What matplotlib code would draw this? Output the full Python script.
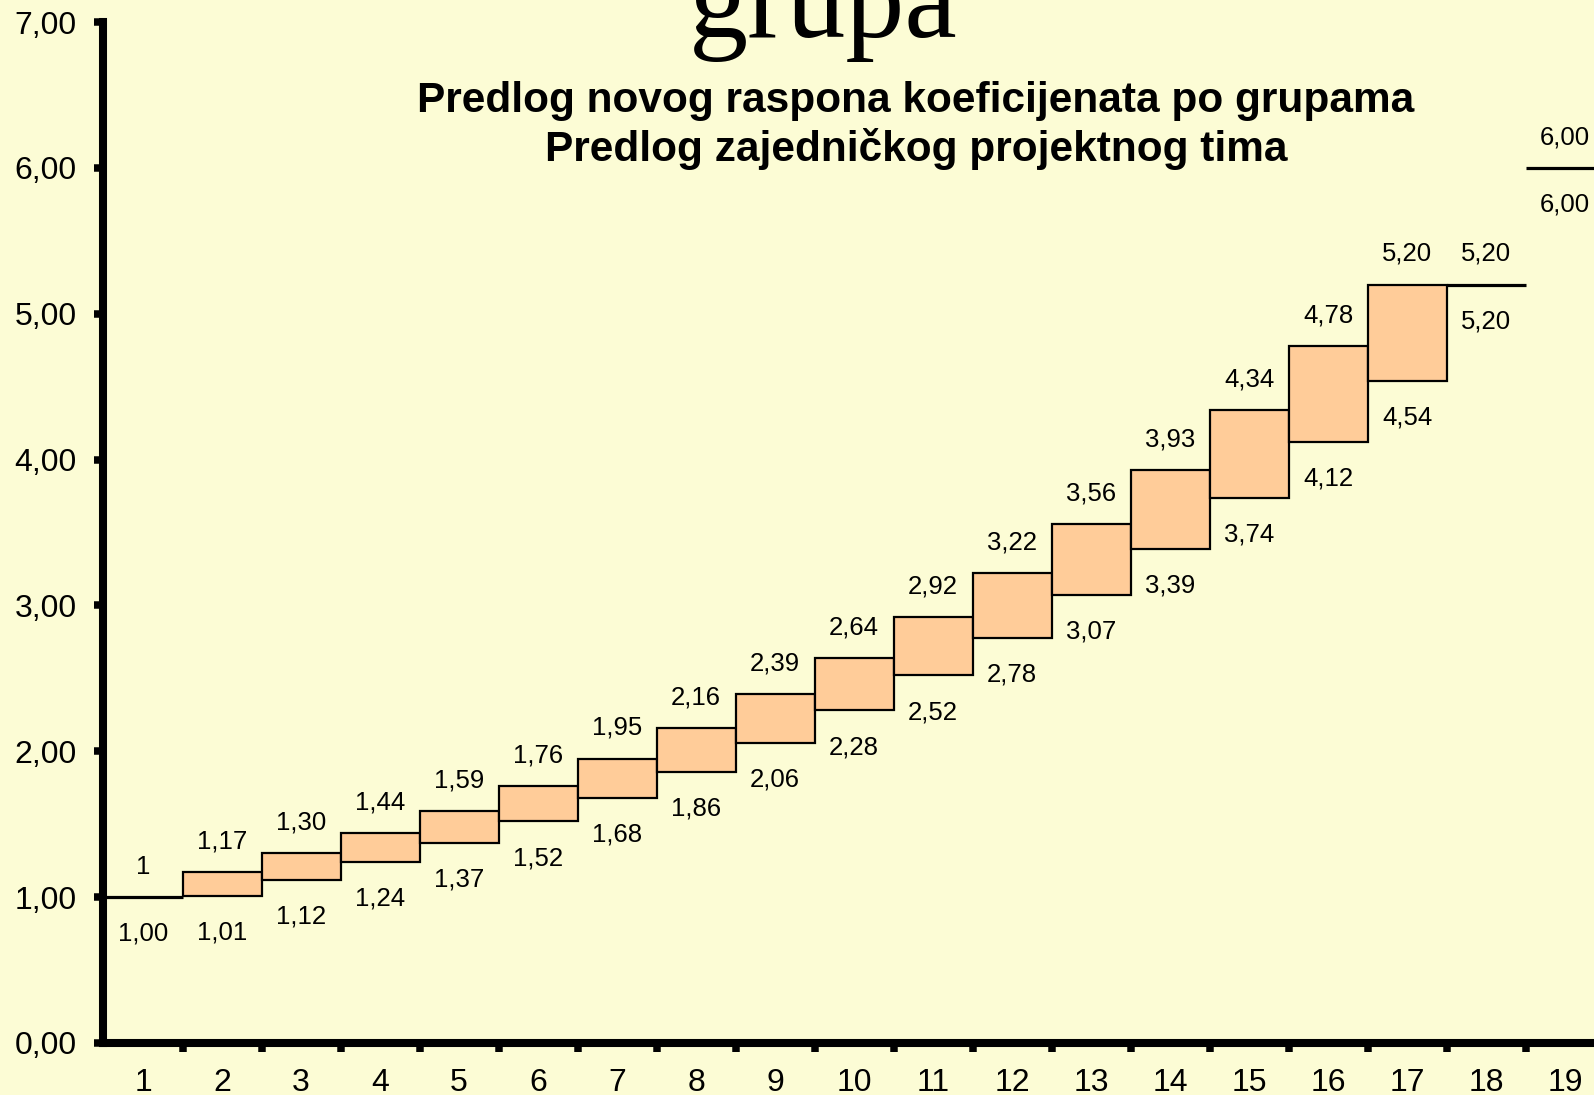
import numpy as np
import matplotlib.pyplot as plt
from matplotlib.patches import Rectangle

# groups and coefficient ranges (low / high)
groups = list(range(1, 20))
low = [1.00, 1.01, 1.12, 1.24, 1.37, 1.52, 1.68, 1.86, 2.06, 2.28,
       2.52, 2.78, 3.07, 3.39, 3.74, 4.12, 4.54, 5.20, 6.00]
high = [1.00, 1.17, 1.30, 1.44, 1.59, 1.76, 1.95, 2.16, 2.39, 2.64,
        2.92, 3.22, 3.56, 3.93, 4.34, 4.78, 5.20, 5.20, 6.00]
# label shown above each group (first one is written as plain "1")
top_labels = ['1'] + [f'{v:.2f}'.replace('.', ',') for v in high[1:]]
bottom_labels = [f'{v:.2f}'.replace('.', ',') for v in low]
yticks = [0, 1, 2, 3, 4, 5, 6, 7]

bg = '#FCFCD5'
plt.rcParams['font.family'] = ['Liberation Sans', 'DejaVu Sans']

fig = plt.figure(figsize=(15.94, 10.95), dpi=100, facecolor=bg)
ax = fig.add_axes([0.06493, 0.04749, 0.9417, 0.9324])
ax.set_facecolor(bg)

for g, lo, hi in zip(groups, low, high):
    if hi > lo:
        ax.add_patch(Rectangle((g - 0.5, lo), 1, hi - lo, facecolor='#FFCC99',
                               edgecolor='black', linewidth=1.6, zorder=2))
    else:
        ax.plot([g - 0.5, g + 0.5], [lo, hi], color='black', linewidth=2.3,
                solid_capstyle='butt', zorder=2)

for g, lo, hi, tl, bl in zip(groups, low, high, top_labels, bottom_labels):
    ax.annotate(tl, (g, hi), xytext=(0, 17), textcoords='offset points',
                ha='center', va='baseline', fontsize=18.5)
    ax.annotate(bl, (g, lo), xytext=(0, -31.5), textcoords='offset points',
                ha='center', va='baseline', fontsize=18.5)

ax.set_xlim(0.5, 19.5)
ax.set_ylim(0, 7)

ax.set_yticks(yticks)
ax.set_yticklabels([f'{v:.2f}'.replace('.', ',') for v in yticks])
ax.set_xticks(groups)
ax.set_xticklabels([str(g) for g in groups])
ax.set_xticks(np.arange(1.5, 19.5, 1.0), minor=True)
ax.tick_params(axis='x', which='major', length=0, pad=18, labelsize=23)
ax.tick_params(axis='x', which='minor', length=6.5, width=5.4, direction='out')
ax.tick_params(axis='y', length=6.5, width=5.4, pad=13, labelsize=23)

for side in ['top', 'right']:
    ax.spines[side].set_visible(False)
for side in ['left', 'bottom']:
    ax.spines[side].set_linewidth(5.8)
ax.spines['left'].set_capstyle('projecting')
ax.spines['bottom'].set_capstyle('projecting')

fig.text(0.5163, 0.966, 'grupa', family='Liberation Serif', fontsize=85,
         ha='center', va='baseline')
fig.text(0.5747, 0.8977, 'Predlog novog raspona koeficijenata po grupama',
         fontsize=30.5, fontweight='bold', ha='center', va='baseline')
fig.text(0.5747, 0.853, 'Predlog zajedničkog projektnog tima',
         fontsize=30.5, fontweight='bold', ha='center', va='baseline')

fig.savefig('out.png', dpi=100, facecolor=bg)
